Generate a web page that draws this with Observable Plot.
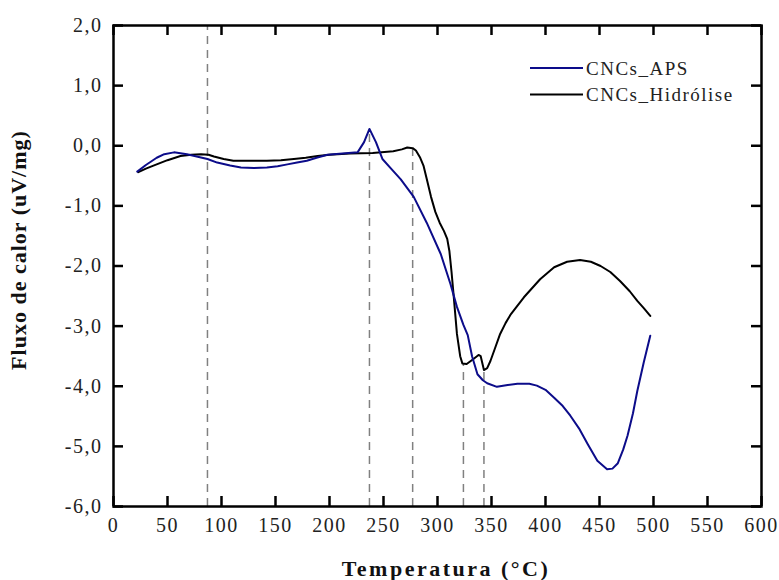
<!DOCTYPE html>
<html>
<head>
<meta charset="utf-8">
<script src="https://cdn.jsdelivr.net/npm/d3@7"></script>
<script src="https://cdn.jsdelivr.net/npm/@observablehq/plot@0.6"></script>
<style>
  body { margin: 0; background: #fff; overflow: hidden; }
  #chart svg { display: block; }
</style>
</head>
<body>
<div id="chart"></div>
<script>
// Tick values
const xTicks = [0, 50, 100, 150, 200, 250, 300, 350, 400, 450, 500, 550, 600];
const yTicks = [-6, -5, -4, -3, -2, -1, 0, 1, 2];

// Series names
const seriesNames = ["CNCs_APS", "CNCs_Hidrólise"];

// CNCs_APS
const apsT = [22, 30, 40, 47, 56, 68, 80, 87, 96, 108, 118, 130, 142, 152, 161, 170, 179, 188, 198, 212, 226, 232, 237, 243, 249, 257, 266, 278, 290, 303, 312, 318, 324, 328, 332, 337, 342, 346, 355, 365, 374, 385, 392, 400, 408, 416, 423, 431, 439, 448, 457, 462, 467, 472, 476, 481, 485, 491, 497];
const apsV = [-0.43, -0.32, -0.2, -0.14, -0.11, -0.14, -0.19, -0.22, -0.28, -0.33, -0.36, -0.37, -0.36, -0.34, -0.31, -0.28, -0.25, -0.2, -0.15, -0.13, -0.11, 0.06, 0.28, 0.06, -0.22, -0.38, -0.56, -0.85, -1.28, -1.8, -2.3, -2.68, -2.98, -3.15, -3.5, -3.8, -3.9, -3.95, -4.01, -3.98, -3.96, -3.96, -3.99, -4.06, -4.19, -4.33, -4.49, -4.7, -4.96, -5.24, -5.38, -5.37, -5.28, -5.05, -4.82, -4.45, -4.08, -3.6, -3.16];

// CNCs_Hidrólise
const hidT = [23, 30, 37, 50, 62, 72, 81, 88, 93, 102, 111, 125, 142, 155, 167, 178, 189, 200, 219, 240, 259, 267, 272, 277, 280, 284, 287, 290, 294, 298, 302, 306, 309, 311, 313, 315, 318, 321, 323, 327, 333, 338, 340, 343, 346, 349, 353, 358, 363, 368, 380, 395, 408, 420, 432, 442, 451, 460, 469, 478, 485, 491, 497];
const hidV = [-0.44, -0.38, -0.33, -0.24, -0.17, -0.15, -0.14, -0.15, -0.18, -0.22, -0.25, -0.25, -0.25, -0.24, -0.22, -0.2, -0.17, -0.15, -0.13, -0.12, -0.09, -0.06, -0.03, -0.04, -0.08, -0.2, -0.33, -0.55, -0.85, -1.1, -1.28, -1.42, -1.55, -1.75, -2.1, -2.5, -3.13, -3.5, -3.62, -3.63, -3.55, -3.48, -3.5, -3.73, -3.7, -3.58, -3.38, -3.13, -2.95, -2.8, -2.52, -2.22, -2.02, -1.93, -1.9, -1.93, -2.0, -2.1, -2.25, -2.42, -2.58, -2.7, -2.83];

// Dashed reference lines (temperature, top value)
const dashX = [87, 237, 277, 324, 343];
const dashTop = [2, 0.28, -0.04, -3.63, -3.73];

const colors = ["#0c0c8a", "#000000"];

const aps = apsT.map((t, i) => ({t, v: apsV[i]}));
const hid = hidT.map((t, i) => ({t, v: hidV[i]}));
const dashes = dashX.map((x, i) => ({x, top: dashTop[i]}));

const W = 779, H = 580, mL = 113, mR = 18, mT = 25, mB = 74;
const innerW = W - mL - mR, innerH = H - mT - mB;
const TL = 10; // tick length (px)
const fmt = d => d.toFixed(1).replace(".", ",");
const serif = "'Liberation Serif', 'Times New Roman', serif";

const plot = Plot.plot({
  width: W, height: H,
  marginLeft: mL, marginRight: mR, marginTop: mT, marginBottom: mB,
  style: {fontFamily: serif, fontSize: "20px"},
  x: {domain: [0, 600], label: null},
  y: {domain: [-6, 2], label: null},
  marks: [
    Plot.ruleX(dashes, {x: "x", y1: -6, y2: "top", stroke: "#808080", strokeWidth: 1.5, strokeDasharray: "8,6"}),
    Plot.line(hid, {x: "t", y: "v", stroke: colors[1], strokeWidth: 2}),
    Plot.line(aps, {x: "t", y: "v", stroke: colors[0], strokeWidth: 2}),
    Plot.frame({stroke: "#000", strokeWidth: 2.5}),
    Plot.ruleX(xTicks, {x: d => d, insetTop: innerH - TL, stroke: "#000", strokeWidth: 2.5}),
    Plot.ruleX(xTicks, {x: d => d, insetBottom: innerH - TL, stroke: "#000", strokeWidth: 2.5}),
    Plot.ruleY(yTicks, {y: d => d, insetRight: innerW - TL, stroke: "#000", strokeWidth: 2.5}),
    Plot.ruleY(yTicks, {y: d => d, insetLeft: innerW - TL, stroke: "#000", strokeWidth: 2.5}),
    Plot.axisX(xTicks, {tickSize: 0, tickPadding: 11, tickFormat: d => d, fill: "#222"}),
    Plot.axisY(yTicks, {tickSize: 0, tickPadding: 11, tickFormat: fmt, fill: "#222"})
  ]
});

const svg = d3.select(plot);
svg.selectAll("text").style("letter-spacing", "1.5px");

// Axis titles
svg.append("text")
  .attr("x", 446).attr("y", 576)
  .attr("text-anchor", "middle")
  .attr("font-family", serif)
  .attr("font-size", 22).attr("font-weight", "bold")
  .style("letter-spacing", "2.5px")
  .attr("fill", "#111")
  .text("Temperatura (°C)");
svg.append("text")
  .attr("transform", "translate(26,250) rotate(-90)")
  .attr("text-anchor", "middle")
  .attr("font-family", serif)
  .attr("font-size", 22).attr("font-weight", "bold")
  .style("letter-spacing", "1px")
  .attr("fill", "#111")
  .text("Fluxo de calor (uV/mg)");

// Legend
const lg = svg.append("g").attr("text-anchor", "start");
seriesNames.forEach((name, i) => {
  const yy = 68 + i * 26.5;
  lg.append("line").attr("x1", 530).attr("x2", 583).attr("y1", yy).attr("y2", yy)
    .attr("stroke", colors[i]).attr("stroke-width", 2);
  lg.append("text").attr("x", 586).attr("y", yy).attr("dy", "0.35em")
    .attr("text-anchor", "start")
    .attr("font-family", serif).attr("font-size", 19)
    .style("letter-spacing", "1.5px")
    .attr("fill", "#222").text(name);
});

document.getElementById("chart").appendChild(plot);
</script>
</body>
</html>
